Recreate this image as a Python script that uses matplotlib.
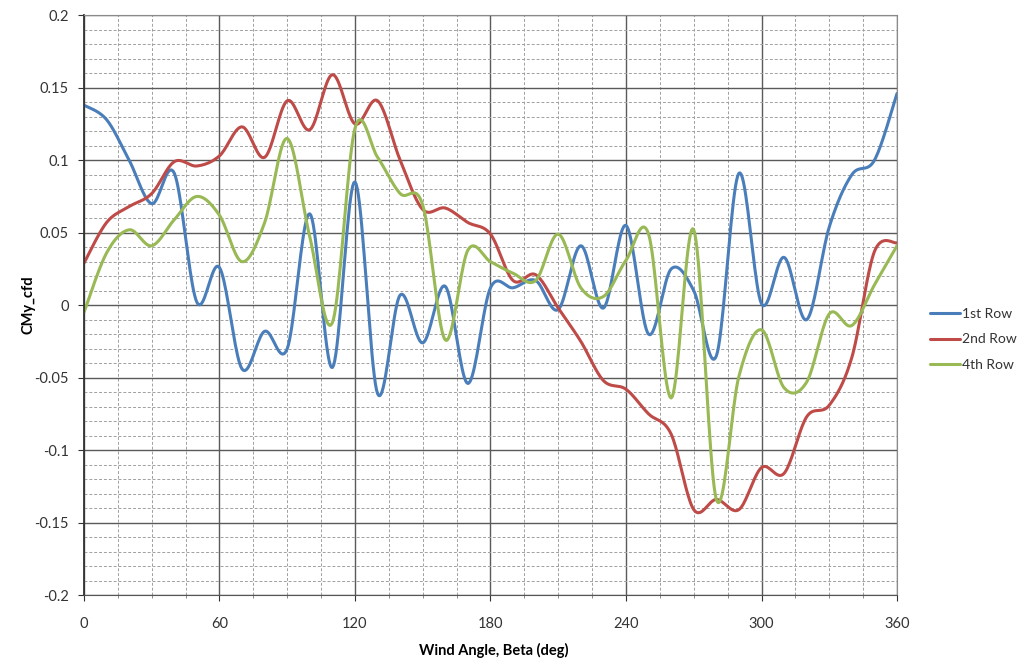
import numpy as np
import matplotlib.pyplot as plt
from matplotlib.ticker import MultipleLocator, FuncFormatter

plt.rcParams['font.family'] = ['Lato', 'DejaVu Sans']

beta = list(range(0, 361, 10))

row1 = [0.138, 0.128, 0.100, 0.070, 0.091, 0.002, 0.026, -0.044, -0.018, -0.030,
        0.063, -0.043, 0.085, -0.061, 0.007, -0.026, 0.013, -0.054, 0.012, 0.012,
        0.017, -0.003, 0.041, -0.002, 0.055, -0.020, 0.025, 0.010, -0.035, 0.091,
        0.001, 0.033, -0.010, 0.054, 0.090, 0.100, 0.146]
row2 = [0.029, 0.057, 0.068, 0.077, 0.099, 0.096, 0.103, 0.123, 0.102, 0.141,
        0.121, 0.159, 0.125, 0.141, 0.100, 0.066, 0.067, 0.057, 0.049, 0.017,
        0.021, -0.002, -0.025, -0.052, -0.058, -0.075, -0.089, -0.141, -0.134, -0.141,
        -0.112, -0.116, -0.077, -0.069, -0.036, 0.037, 0.043]
row4 = [-0.005, 0.036, 0.052, 0.041, 0.059, 0.075, 0.062, 0.030, 0.057, 0.115,
        0.047, -0.012, 0.122, 0.102, 0.077, 0.069, -0.024, 0.038, 0.030, 0.022,
        0.017, 0.049, 0.012, 0.006, 0.031, 0.049, -0.064, 0.052, -0.134, -0.049,
        -0.017, -0.057, -0.053, -0.006, -0.014, 0.014, 0.041]

series = [("1st Row", row1, "#4a7ebb"),
          ("2nd Row", row2, "#be4b48"),
          ("4th Row", row4, "#98b954")]


def smooth(x, y, n=20):
    # Excel-style smoothed line: cubic Bezier with Catmull-Rom control points
    x = np.asarray(x, float)
    y = np.asarray(y, float)
    px = np.concatenate([[x[0]], x, [x[-1]]])
    py = np.concatenate([[y[0]], y, [y[-1]]])
    t = np.linspace(0, 1, n, endpoint=False)[:, None]
    xs, ys = [], []
    for i in range(1, len(px) - 2):
        p0 = np.array([px[i], py[i]])
        p3 = np.array([px[i + 1], py[i + 1]])
        c1 = p0 + (np.array([px[i + 1], py[i + 1]]) - np.array([px[i - 1], py[i - 1]])) / 6
        c2 = p3 - (np.array([px[i + 2], py[i + 2]]) - np.array([px[i], py[i]])) / 6
        pts = ((1 - t) ** 3) * p0 + 3 * ((1 - t) ** 2) * t * c1 + 3 * (1 - t) * t ** 2 * c2 + t ** 3 * p3
        xs.append(pts[:, 0])
        ys.append(pts[:, 1])
    xs.append([x[-1]])
    ys.append([y[-1]])
    return np.concatenate(xs), np.concatenate(ys)


fig = plt.figure(figsize=(10.24, 6.62), dpi=100)
ax = fig.add_axes([0.082, 0.101, 0.794, 0.876])

for name, vals, col in series:
    sx, sy = smooth(beta, vals)
    ax.plot(sx, sy, color=col, lw=2.2, label=name, solid_capstyle="round")

ax.set_xlim(0, 360)
ax.set_ylim(-0.2, 0.2)
ax.xaxis.set_major_locator(MultipleLocator(60))
ax.xaxis.set_minor_locator(MultipleLocator(15))
ax.yaxis.set_major_locator(MultipleLocator(0.05))
ax.yaxis.set_minor_locator(MultipleLocator(0.01))
ax.yaxis.set_major_formatter(FuncFormatter(lambda v, p: "0" if abs(v) < 1e-9 else "{:g}".format(round(v, 2))))

ax.grid(which="major", color="#5a5a5a", lw=1.0)
ax.grid(which="minor", color="#a0a0a0", lw=0.7, ls=(0, (3, 2)))
ax.set_axisbelow(True)

for s in ax.spines.values():
    s.set_color("#8a8a8a")
ax.spines["left"].set_color("#333333")
ax.spines["left"].set_linewidth(1.3)
ax.spines["bottom"].set_color("#555555")

ax.tick_params(which="major", length=4, color="#333333", labelsize=10.5, labelcolor="#333333")
ax.tick_params(axis="y", which="major", pad=7)
ax.tick_params(axis="x", which="major", pad=12)
ax.tick_params(axis="x", which="minor", length=2, color="#777777")
ax.tick_params(axis="y", which="minor", length=0)

ax.set_xlabel("Wind Angle, Beta (deg)", fontsize=10.5, fontweight="bold")
ax.xaxis.set_label_coords(0.504, -0.083)
ax.set_ylabel("CMy_cfd", fontsize=10.5, fontweight="bold")
ax.yaxis.set_label_coords(-0.06, 0.5)

ax.legend(loc="center left", bbox_to_anchor=(1.025, 0.441), frameon=False,
          fontsize=10, handlelength=2.2, handletextpad=0.1, labelspacing=1.0,
          labelcolor="#333333")

fig.savefig("out.png", dpi=100)
